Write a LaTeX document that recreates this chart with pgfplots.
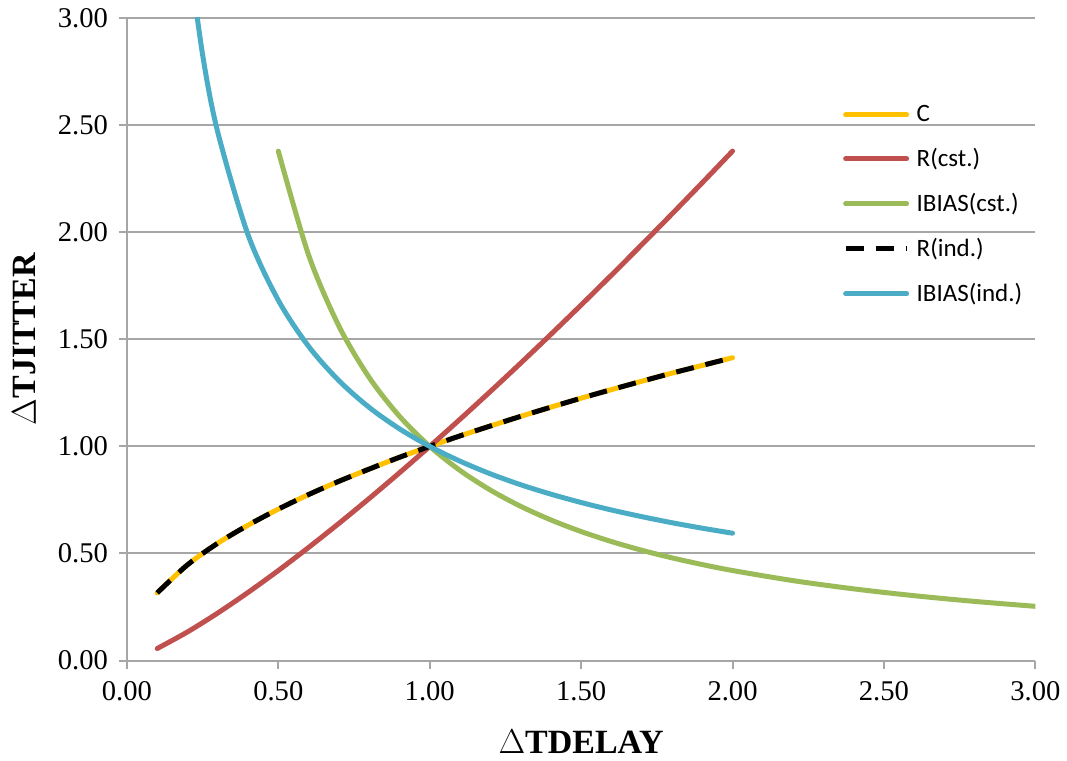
\documentclass[border=0pt]{standalone}
\usepackage{pgfplots}
\pgfplotsset{compat=1.18}
\usepackage{fontspec}
\setmainfont{Liberation Serif}
\newfontfamily\calibri{Carlito}
\definecolor{cC}{HTML}{FFC000}
\definecolor{cR}{HTML}{C0504D}
\definecolor{cG}{HTML}{9BBB59}
\definecolor{cB}{HTML}{4BACC6}
\definecolor{gridc}{HTML}{A6A6A6}
\begin{document}
\begin{tikzpicture}
\begin{axis}[
  scale only axis,
  width=454.5pt, height=321.5pt,
  xmin=0, xmax=3, ymin=0, ymax=3,
  xtick={0,0.5,...,3}, ytick={0,0.5,...,3},
  axis lines*=left,
  axis line style={gridc, line width=1pt},
  tick align=outside,
  major tick length=4pt,
  tick style={gridc, line width=1pt},
  ymajorgrids,
  grid style={gridc, line width=1pt},
  /pgf/number format/assume math mode=true,
  /pgf/number format/.cd, fixed, fixed zerofill, precision=2, /pgfplots/.cd,
  ticklabel style={font=\fontsize{14.3}{16}\selectfont},
  yticklabel style={xshift=-2pt},
  xticklabel style={yshift=-3pt},
  xlabel={\bfseries $\Delta$TDELAY},
  ylabel={\bfseries $\Delta$TJITTER},
  label style={font=\fontsize{17}{20}\selectfont\bfseries},
  xlabel style={at={(axis description cs:0.5,-0.126)}, anchor=center},
  ylabel style={at={(axis description cs:-0.113,0.5)}, anchor=center},
  legend style={draw=none, fill=none, font=\calibri\fontsize{12.5}{14}\selectfont,
    at={(rel axis cs:0.788,0.869)}, anchor=north west, inner sep=0pt,
    row sep=9.3pt, nodes={inner sep=1.3pt},
    /tikz/every odd column/.append style={column sep=2.5pt}},
  legend cell align=left,
  legend image code/.code={\draw[#1] (0pt,0pt) -- (30.5pt,0pt);},
  every axis plot/.append style={line width=2.5pt, line cap=round, line join=round},
]
\addplot[cC, smooth] coordinates {
(0.1,0.316) (0.2,0.447) (0.3,0.548) (0.4,0.632) (0.5,0.707) (0.6,0.775) (0.7,0.837)
(0.8,0.894) (0.9,0.949) (1.0,1.000) (1.1,1.049) (1.2,1.095) (1.3,1.140) (1.4,1.183)
(1.5,1.225) (1.6,1.265) (1.7,1.304) (1.8,1.342) (1.9,1.378) (2.0,1.414)};
\addlegendentry{C}
\addplot[cR, smooth] coordinates {
(0.1,0.0562) (0.2,0.1337) (0.3,0.2220) (0.4,0.3181) (0.5,0.4204) (0.6,0.5281) (0.7,0.6403)
(0.8,0.7566) (0.9,0.8766) (1.0,1.0000) (1.1,1.1265) (1.2,1.2560) (1.3,1.3881) (1.4,1.5229)
(1.5,1.6600) (1.6,1.7995) (1.7,1.9413) (1.8,2.0851) (1.9,2.2308) (2.0,2.3784)};
\addlegendentry{R(cst.)}
\addplot[cG, smooth] coordinates {
(0.5,2.3784) (0.6,1.8935) (0.7,1.5618) (0.8,1.3217) (0.9,1.1408) (1.0,1.0000) (1.1,0.8877)
(1.2,0.7962) (1.3,0.7204) (1.4,0.6566) (1.5,0.6024) (1.6,0.5557) (1.7,0.5151) (1.8,0.4796)
(1.9,0.4483) (2.0,0.4204) (2.2,0.3732) (2.4,0.3348) (2.6,0.3029) (2.8,0.2761) (3.0,0.2533)};
\addlegendentry{IBIAS(cst.)}
\addplot[black, smooth, line cap=butt, dash pattern=on 9pt off 6pt] coordinates {
(0.1,0.316) (0.2,0.447) (0.3,0.548) (0.4,0.632) (0.5,0.707) (0.6,0.775) (0.7,0.837)
(0.8,0.894) (0.9,0.949) (1.0,1.000) (1.1,1.049) (1.2,1.095) (1.3,1.140) (1.4,1.183)
(1.5,1.225) (1.6,1.265) (1.7,1.304) (1.8,1.342) (1.9,1.378) (2.0,1.414)};
\addlegendentry{R(ind.)}
\addplot[cB, smooth] coordinates {
(0.2,3.344) (0.25,2.828) (0.3,2.467) (0.4,1.988) (0.5,1.682) (0.6,1.467) (0.7,1.307)
(0.8,1.182) (0.9,1.082) (1.0,1.000) (1.1,0.931) (1.2,0.872) (1.3,0.821) (1.4,0.777)
(1.5,0.738) (1.6,0.703) (1.7,0.672) (1.8,0.6435) (1.9,0.618) (2.0,0.5946)};
\addlegendentry{IBIAS(ind.)}
\coordinate (bl) at (rel axis cs:0,0);
\coordinate (tr) at (rel axis cs:1,1);
\end{axis}
\path ([xshift=-63.5pt,yshift=-49pt]bl) rectangle ([xshift=15.5pt,yshift=9pt]tr);
\end{tikzpicture}
\end{document}
